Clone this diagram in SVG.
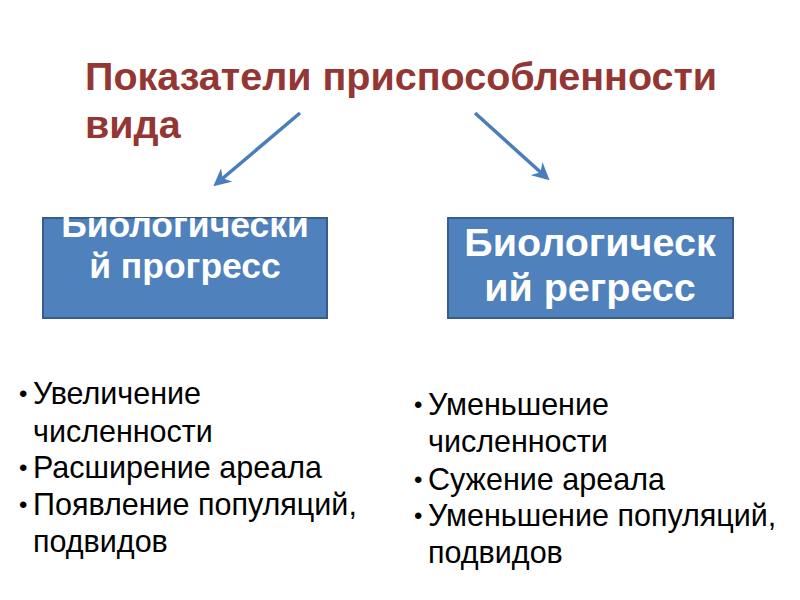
<svg xmlns="http://www.w3.org/2000/svg" width="800" height="600" viewBox="0 0 800 600">
<style>
.title{font-family:"Liberation Sans",Arial,sans-serif;font-weight:bold;font-size:39.5px;fill:#943634}
.box{fill:#4f81bd;stroke:#385d8a;stroke-width:2}
.bt{font-family:"Liberation Sans",Arial,sans-serif;font-weight:bold;fill:#ffffff;text-anchor:middle}
.li{font-family:"Liberation Sans",Arial,sans-serif;font-size:30.5px;fill:#000000}
.bu{font-family:"Liberation Sans",Arial,sans-serif;font-size:24px;fill:#000000}
.arr{stroke:#4a7ebb;stroke-width:3.5;fill:none;marker-end:url(#ah)}
</style>
<defs>
<marker id="ah" viewBox="0 0 10 10" refX="8" refY="5" markerWidth="5" markerHeight="5" orient="auto" markerUnits="strokeWidth">
<path d="M0,0 L10,5 L0,10 L3,5 Z" fill="#4a7ebb"/>
</marker>
</defs>
<rect width="800" height="600" fill="#ffffff"/>
<g id="title">
<text class="title" x="85" y="90">Показатели приспособленности</text>
<text class="title" x="85" y="138">вида</text>
</g>
<g id="connectors">
<line class="arr" x1="300" y1="113" x2="216" y2="184"/>
<line class="arr" x1="475" y1="113" x2="547" y2="178"/>
</g>
<g id="progress">
<rect class="box" x="43" y="218" width="284" height="100"/>
<text class="bt" x="185" y="237" font-size="35.5">Биологически</text>
<text class="bt" x="185" y="278" font-size="35.5">й прогресс</text>
</g>
<g id="regress">
<rect class="box" x="448" y="218" width="285" height="100"/>
<text class="bt" x="590" y="256" font-size="39.5">Биологическ</text>
<text class="bt" x="590" y="301" font-size="39.5">ий регресс</text>
</g>
<g id="list-left">
<text class="bu" x="19" y="402">•</text>
<text class="li" x="33" y="404">Увеличение</text>
<text class="li" x="33" y="442">численности</text>
<text class="bu" x="19" y="476">•</text>
<text class="li" x="33" y="478">Расширение ареала</text>
<text class="bu" x="19" y="513">•</text>
<text class="li" x="33" y="515">Появление популяций,</text>
<text class="li" x="33" y="552">подвидов</text>
</g>
<g id="list-right">
<text class="bu" x="414" y="413">•</text>
<text class="li" x="428" y="415">Уменьшение</text>
<text class="li" x="428" y="452">численности</text>
<text class="bu" x="414" y="488">•</text>
<text class="li" x="428" y="490">Сужение ареала</text>
<text class="bu" x="414" y="524">•</text>
<text class="li" x="428" y="526">Уменьшение популяций,</text>
<text class="li" x="428" y="563">подвидов</text>
</g>
</svg>
